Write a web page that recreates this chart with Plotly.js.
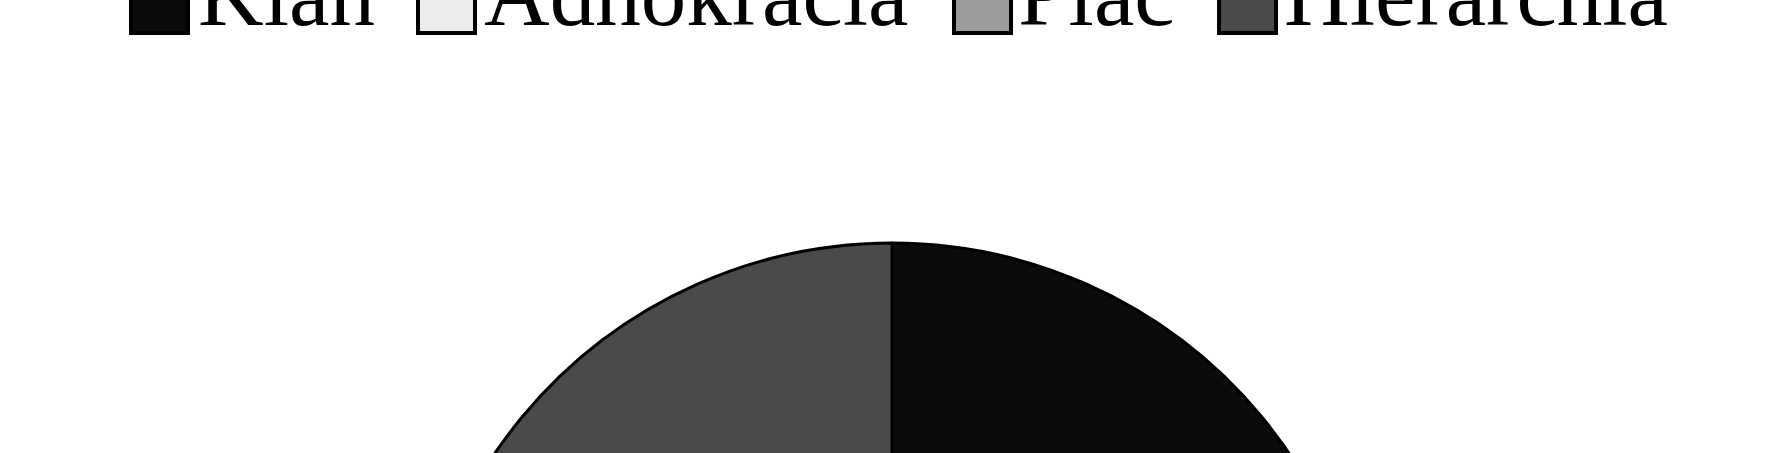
<!DOCTYPE html>
<html>
<head>
<meta charset="utf-8">
<script src="https://cdn.plot.ly/plotly-3.0.1.min.js"></script>
<style>
  html, body { margin: 0; padding: 0; overflow: hidden; background: #fff; }
  #chart { width: 1782px; height: 1300px; }
</style>
</head>
<body>
<div id="chart"></div>
<script>
/* Organisational culture types, pie chart (top part visible). */

const labels = ["Klan", "Adhokracia", "Plac", "Hierarchia"];
const values = [28, 22, 22, 28];
const sliceColors = ["#0b0b0b", "#ececec", "#9c9c9c", "#4a4a4a"];

// legend swatch left edges and label left edges, in page pixels
const swatchLeft = [131, 418, 954, 1219];
const labelLeft = [196, 482, 1016, 1282];

const W = 1782;
const H = 1300;
const px = (x) => x / W;
const py = (y) => 1 - y / H;

const SWATCH = 57;

const shapes = labels.map((lab, i) => ({
  type: "rect",
  xref: "paper", yref: "paper",
  x0: px(swatchLeft[i]), x1: px(swatchLeft[i] + SWATCH),
  y0: py(33), y1: py(33 - SWATCH),
  fillcolor: sliceColors[i],
  line: { color: "#000", width: 4 },
}));

const annotations = labels.map((lab, i) => ({
  text: lab,
  xref: "paper", yref: "paper",
  x: px(labelLeft[i]), y: py(47),
  xanchor: "left", yanchor: "bottom",
  showarrow: false,
  font: { family: "Liberation Serif, Times New Roman, serif", size: 91, color: "#000" },
}));

Plotly.newPlot("chart", [{
  type: "pie",
  labels: labels,
  values: values,
  sort: false,
  direction: "clockwise",
  rotation: 0,
  textinfo: "none",
  hoverinfo: "label+percent",
  marker: { colors: sliceColors, line: { color: "#000", width: 3 } },
  domain: { x: [px(412), px(1372)], y: [py(1203), py(243)] },
}], {
  width: W,
  height: H,
  margin: { l: 0, r: 0, t: 0, b: 0 },
  paper_bgcolor: "#fff",
  showlegend: false,
  shapes: shapes,
  annotations: annotations,
}, { displayModeBar: false, staticPlot: true });
</script>
</body>
</html>
